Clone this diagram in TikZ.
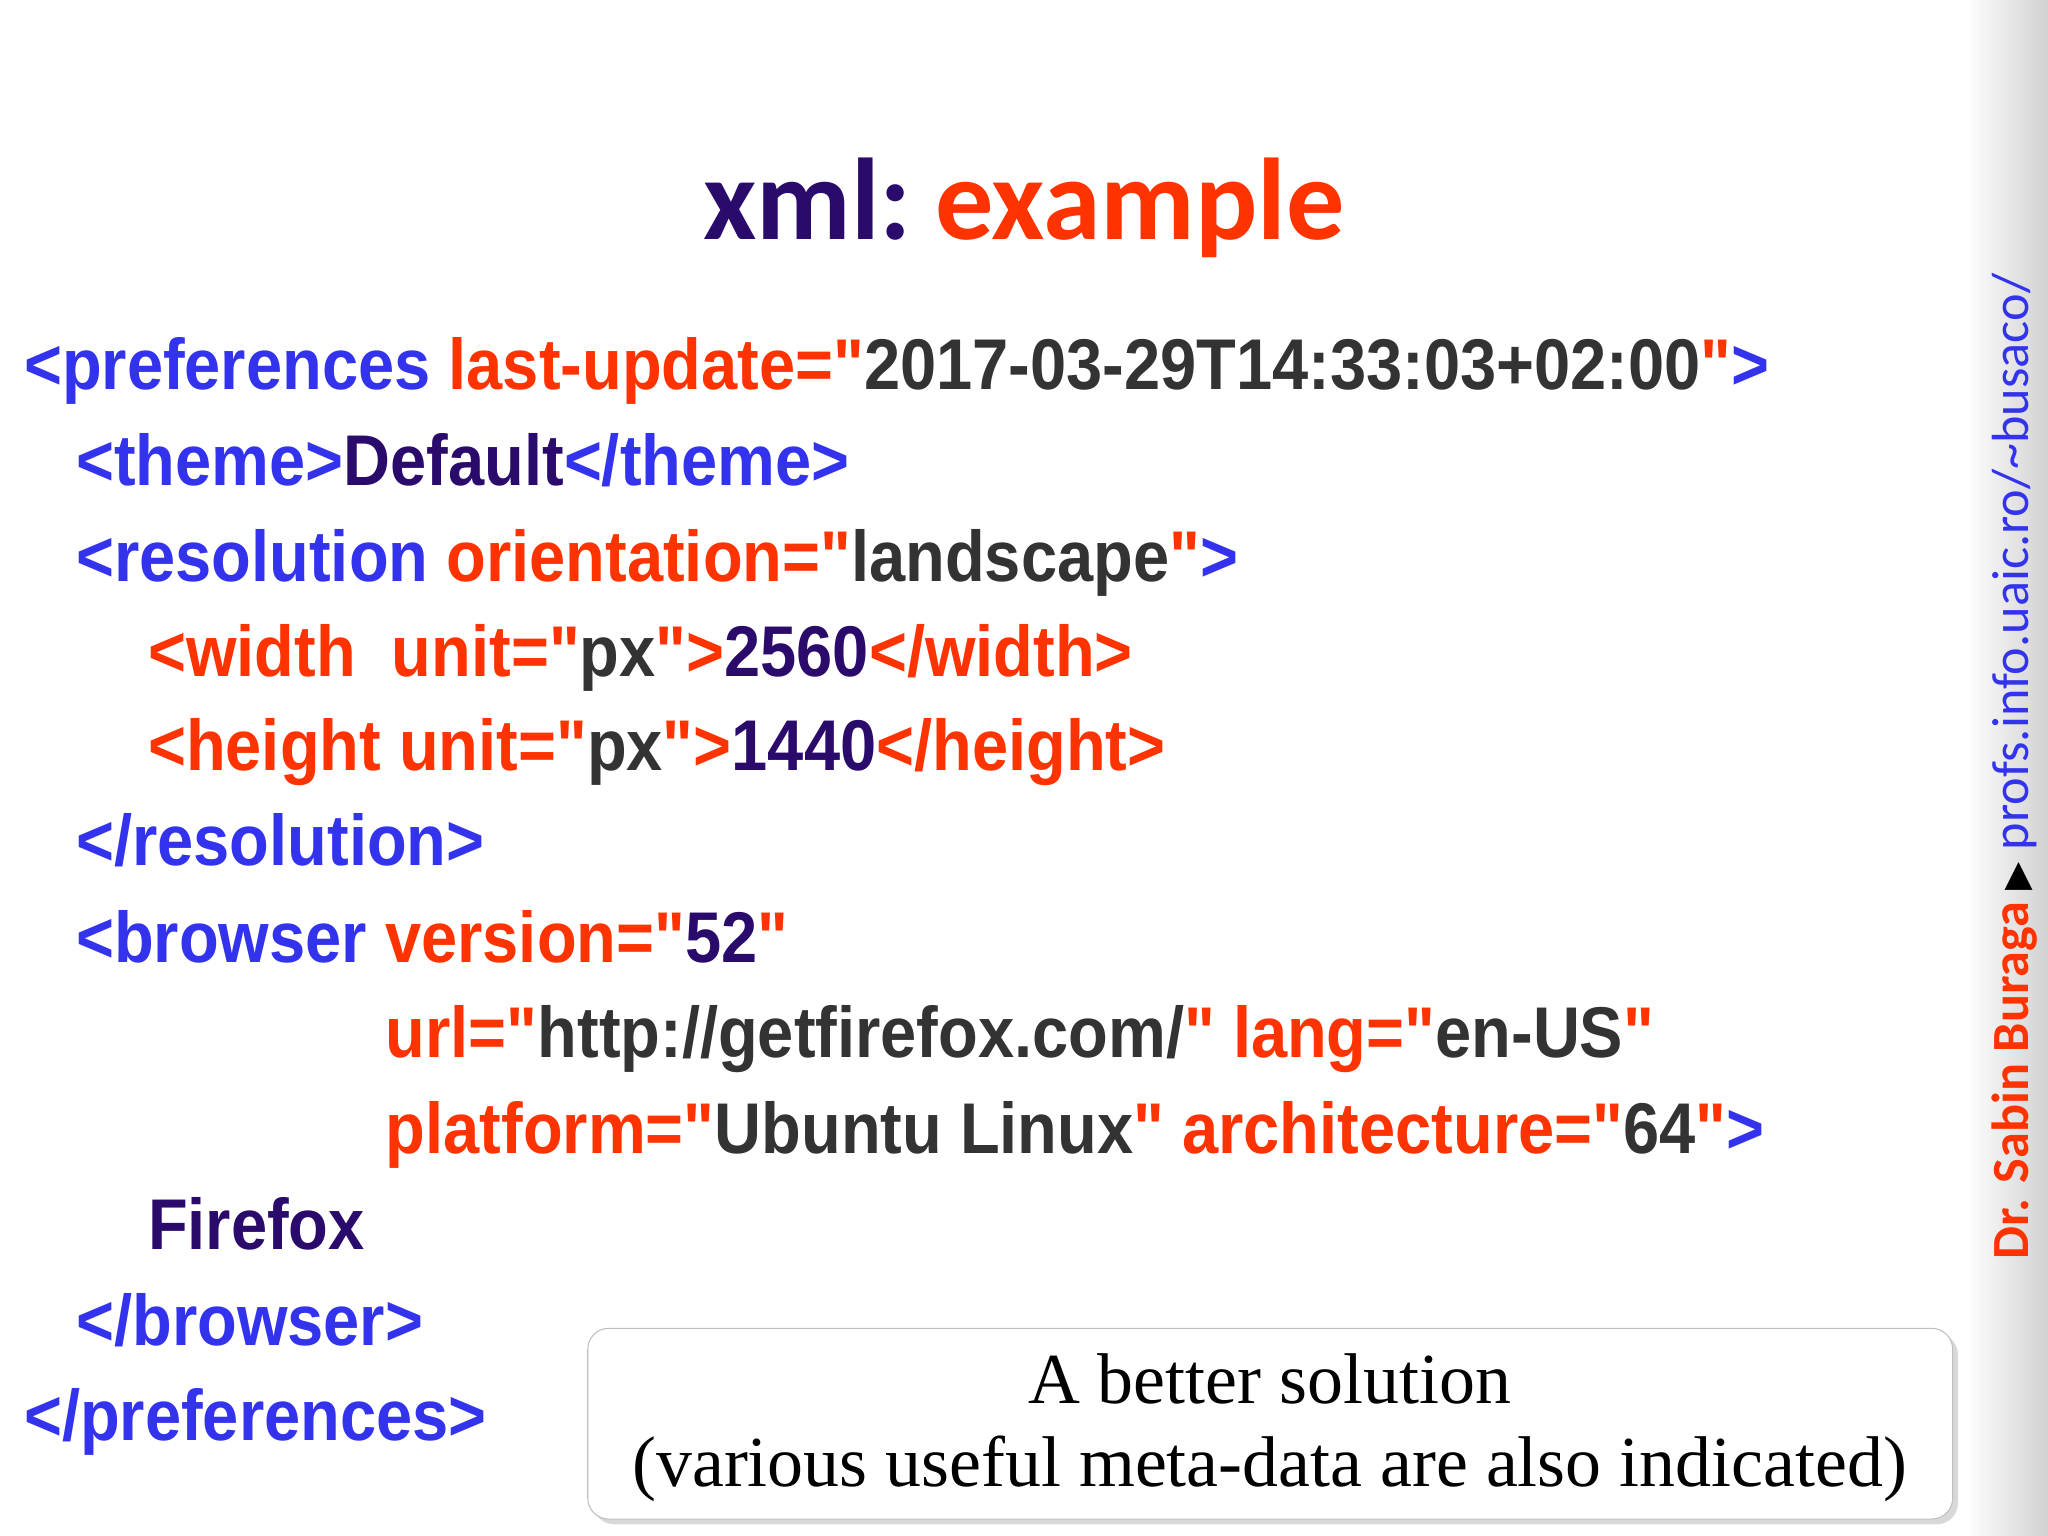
\documentclass[tikz,border=0pt]{standalone}
\usepackage{fontspec}
\setmainfont{Liberation Serif}
\newfontfamily\codef[FakeStretch=0.905]{Liberation Sans}
\newfontfamily\titlef{Carlito}
\newfontfamily\dejavu{DejaVu Sans}
\usetikzlibrary{shadows}
\definecolor{tg}{HTML}{3333EE}
\definecolor{at}{HTML}{FF3300}
\definecolor{vl}{HTML}{333333}
\definecolor{dp}{HTML}{2A0A6B}
\tikzset{code/.style={anchor=base west,inner sep=0,font=\codef\bfseries\fontsize{27.5}{30}\selectfont}}
\begin{document}
\begin{tikzpicture}[x=0.5pt,y=-0.5pt]
\useasboundingbox (0,0) rectangle (1568,1176);
\fill[white] (0,0) rectangle (1568,1176);
\shade[left color=white,right color=black!18] (1505,0) rectangle (1568,1176);
\node[anchor=base,inner sep=0,font=\titlef\bfseries\fontsize{44.5}{48}\selectfont] (title) at (784,183) {\textcolor{dp}{xml:}\hspace{0.2em}\textcolor{at}{example}};
\node[code] (l1) at (18,298) {\textcolor{tg}{<preferences} \textcolor{at}{last-update="}\textcolor{vl}{2017-03-29T14:33:03+02:00}\textcolor{at}{"}\textcolor{tg}{>}};
\node[code] (l2) at (58,372) {\textcolor{tg}{<theme>}\textcolor{dp}{Default}\textcolor{tg}{</theme>}};
\node[code] (l3) at (58,445) {\textcolor{tg}{<resolution} \textcolor{at}{orientation="}\textcolor{vl}{landscape}\textcolor{at}{"}\textcolor{tg}{>}};
\node[code] (l4) at (113,518) {\textcolor{at}{<width\ \ unit="}\textcolor{vl}{px}\textcolor{at}{">}\textcolor{dp}{2560}\textcolor{at}{</width>}};
\node[code] (l5) at (113,590) {\textcolor{at}{<height unit="}\textcolor{vl}{px}\textcolor{at}{">}\textcolor{dp}{1440}\textcolor{at}{</height>}};
\node[code] (l6) at (58,663) {\textcolor{tg}{</resolution>}};
\node[code] (l7) at (58,737) {\textcolor{tg}{<browser} \textcolor{at}{version="}\textcolor{dp}{52}\textcolor{at}{"}};
\node[code] (l8) at (295,810) {\textcolor{at}{url="}\textcolor{vl}{http://getfirefox.com/}\textcolor{at}{" lang="}\textcolor{vl}{en-US}\textcolor{at}{"}};
\node[code] (l9) at (295,883) {\textcolor{at}{platform="}\textcolor{vl}{Ubuntu Linux}\textcolor{at}{" architecture="}\textcolor{vl}{64}\textcolor{at}{"}\textcolor{tg}{>}};
\node[code] (l10) at (113,957) {\textcolor{dp}{Firefox}};
\node[code] (l11) at (58,1030) {\textcolor{tg}{</browser>}};
\node[code] (l12) at (18,1103) {\textcolor{tg}{</preferences>}};
\draw[black!25,fill=white,rounded corners=8pt,drop shadow={opacity=0.3,shadow xshift=2pt,shadow yshift=-2pt}] (450,1017) rectangle (1495,1163);
\node[align=center,inner sep=0,font=\fontsize{27.5}{32}\selectfont] (box) at (972,1093) {A better solution\\(various useful meta-data are also indicated)};
\node[rotate=90,anchor=base west,inner sep=0,font=\titlef\fontsize{20}{22}\selectfont] (side) at (1553,965) {\textcolor{at}{\bfseries Dr. Sabin Buraga} {\dejavu\fontsize{14}{16}\selectfont ▶} \textcolor{tg}{profs.info.uaic.ro/\textasciitilde busaco/}};
\end{tikzpicture}
\end{document}
